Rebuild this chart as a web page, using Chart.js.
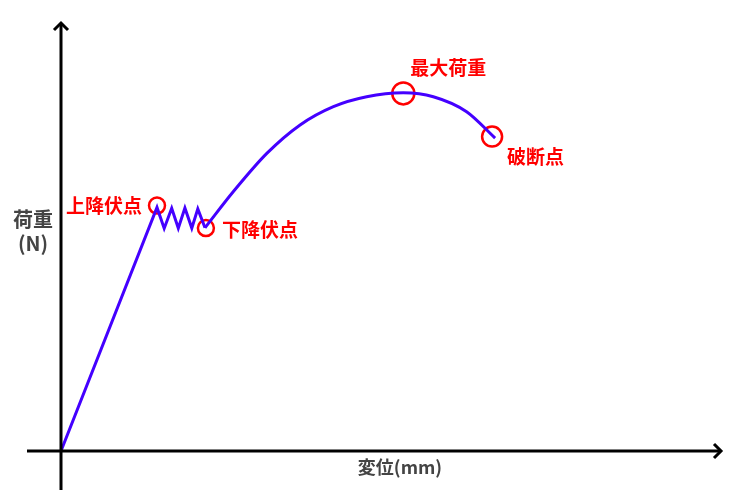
<!DOCTYPE html>
<html lang="ja">
<head>
<meta charset="utf-8">
<script src="https://cdn.jsdelivr.net/npm/chart.js@4"></script>
<style>
  html, body { margin: 0; padding: 0; background: #fff; }
  #wrap { width: 750px; height: 500px; }
</style>
</head>
<body>
<div id="wrap"><canvas id="chartCurva" width="750" height="500"></canvas></div>
<script>
// datos (unidades arbitrarias)
const tramoElastico = [
  { x: 0, y: 0 },
  { x: 3.20, y: 8.12 },
  { x: 3.44, y: 7.42 },
  { x: 3.69, y: 8.09 },
  { x: 3.91, y: 7.43 },
  { x: 4.13, y: 8.10 },
  { x: 4.36, y: 7.43 },
  { x: 4.56, y: 8.07 },
  { x: 4.80, y: 7.44 }
];
const tramoPlastico = [
  { x: 4.80, y: 7.44 },
  { x: 5.74, y: 8.64 },
  { x: 6.86, y: 9.92 },
  { x: 7.97, y: 10.87 },
  { x: 9.08, y: 11.48 },
  { x: 10.19, y: 11.81 },
  { x: 11.41, y: 11.94 },
  { x: 12.41, y: 11.81 },
  { x: 13.52, y: 11.31 },
  { x: 14.47, y: 10.43 }
];
const puntosClave = [
  { x: 3.20, y: 8.18 },
  { x: 4.83, y: 7.43 },
  { x: 11.41, y: 11.92 },
  { x: 14.37, y: 10.48 }
];
const nombresPuntos = ["上降伏点", "下降伏点", "最大荷重", "破断点"];
const tituloX = "変位(mm)";
const tituloY = ["荷重", "(N)"];

const AZUL = '#4400ff';
const ROJO = '#ff0000';
const FUENTE = "'Noto Sans CJK JP', 'Noto Sans', sans-serif";

// radio del círculo y posición de cada etiqueta respecto a su punto
const radios = [8, 8, 11, 10];
const etiquetas = [
  { dx: -15, dy: 0, align: 'right' },
  { dx: 16, dy: 2, align: 'left' },
  { dx: 7, dy: -26, align: 'left' },
  { dx: 15, dy: 20, align: 'left' }
];

// ejes con flechas + textos
const ejesPlugin = {
  id: 'ejes',
  afterDatasetsDraw(chart) {
    const { ctx, scales } = chart;
    const x0 = scales.x.getPixelForValue(0);
    const y0 = scales.y.getPixelForValue(0);
    ctx.save();
    ctx.strokeStyle = '#000';
    ctx.lineWidth = 3;
    ctx.lineCap = 'butt';
    ctx.beginPath();
    ctx.moveTo(27, y0); ctx.lineTo(721, y0);
    ctx.moveTo(x0, 490); ctx.lineTo(x0, 23);
    ctx.stroke();
    ctx.lineJoin = 'miter';
    ctx.beginPath();
    ctx.moveTo(714, y0 - 7); ctx.lineTo(721, y0); ctx.lineTo(714, y0 + 7);
    ctx.moveTo(x0 - 7, 30); ctx.lineTo(x0, 23); ctx.lineTo(x0 + 7, 30);
    ctx.stroke();

    ctx.fillStyle = '#444';
    ctx.textAlign = 'center';
    ctx.textBaseline = 'middle';
    ctx.font = 'bold 18px ' + FUENTE;
    ctx.fillText(tituloX, 400, 467);
    ctx.font = 'bold 20px ' + FUENTE;
    ctx.fillText(tituloY[0], 33, 219);
    ctx.fillText(tituloY[1], 33, 243);

    const meta = chart.getDatasetMeta(2);
    ctx.fillStyle = ROJO;
    ctx.font = 'bold 19px ' + FUENTE;
    meta.data.forEach((p, i) => {
      const e = etiquetas[i];
      ctx.textAlign = e.align;
      ctx.fillText(nombresPuntos[i], p.x + e.dx, p.y + e.dy);
    });
    ctx.restore();
  }
};

window.onload = function() {
  const ctx = document.getElementById('chartCurva').getContext('2d');
  new Chart(ctx, {
    type: 'scatter',
    data: {
      datasets: [
        {
          data: tramoElastico,
          showLine: true,
          borderColor: AZUL,
          borderWidth: 3,
          pointRadius: 0,
          tension: 0
        },
        {
          data: tramoPlastico,
          showLine: true,
          borderColor: AZUL,
          borderWidth: 3,
          pointRadius: 0,
          cubicInterpolationMode: 'monotone'
        },
        {
          data: puntosClave,
          showLine: false,
          pointRadius: radios,
          pointHoverRadius: radios,
          borderColor: ROJO,
          backgroundColor: 'rgba(0,0,0,0)',
          borderWidth: 2.5
        }
      ]
    },
    options: {
      responsive: false,
      animation: false,
      layout: { padding: 0, autoPadding: false },
      plugins: { legend: { display: false }, tooltip: { enabled: false } },
      scales: {
        x: { type: 'linear', display: false, min: -61 / 30, max: 689 / 30 },
        y: { type: 'linear', display: false, min: -49 / 30, max: 451 / 30 }
      }
    },
    plugins: [ejesPlugin]
  });
};
</script>
</body>
</html>
